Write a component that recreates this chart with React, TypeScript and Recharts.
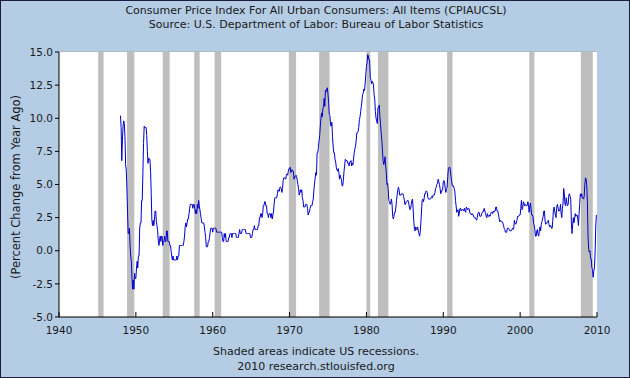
import React from 'react';
import {
  ComposedChart,
  Line,
  XAxis,
  YAxis,
  CartesianGrid,
  ReferenceArea,
} from 'recharts';

// Monthly CPI change from a year earlier (%)
const cpi1948 = [
  10.2, 9.3, 6.8, 8.3, 9.4, 9.8, 9.6, 8.6, 6.5, 6.1, 4.8, 3.0,
  1.3, 1.3, 1.7, 0.4, -0.4, -0.8, -2.1, -2.9, -2.2, -2.9, -1.7, -2.1,
];
const cpi1950s = [
  -2.1, -1.3, -0.8, -1.3, -0.4, -0.4, 1.7, 2.1, 2.1, 3.8, 3.8, 5.9,
  8.1, 9.4, 9.3, 9.3, 9.3, 8.7, 7.5, 6.6, 7.0, 6.9, 6.9, 6.0,
  4.3, 2.3, 1.9, 2.3, 1.9, 2.3, 3.0, 3.0, 2.2, 1.9, 1.5, 0.8,
  0.4, 0.8, 1.1, 0.7, 1.1, 1.1, 0.4, 0.7, 0.7, 1.1, 0.7, 0.7,
  1.5, 1.5, 0.7, 0.7, 0.7, 0.4, 0.4, 0.0, -0.4, -0.7, -0.4, -0.7,
  -0.7, -0.7, -0.7, -0.7, -0.4, -0.7, -0.4, -0.4, 0.4, 0.4, 0.4, 0.4,
  0.4, 0.4, 0.4, 0.7, 1.1, 1.8, 2.1, 1.8, 2.1, 2.4, 2.4, 2.8,
  3.2, 3.5, 3.5, 3.5, 3.5, 3.2, 3.5, 3.5, 3.2, 2.8, 3.1, 2.8,
  3.5, 3.2, 3.8, 3.4, 3.1, 2.8, 2.4, 2.1, 2.1, 2.1, 2.1, 1.8,
  1.4, 1.0, 0.3, 0.3, 0.3, 0.7, 0.7, 1.0, 1.4, 1.7, 1.7, 1.7,
];
const cpi1960s = [
  1.4, 1.7, 1.7, 1.7, 1.7, 1.7, 1.4, 1.4, 1.4, 1.4, 1.4, 1.4,
  1.4, 1.4, 1.4, 1.0, 0.7, 0.7, 1.3, 1.0, 1.3, 0.7, 0.7, 0.7,
  0.7, 1.0, 1.0, 1.3, 1.3, 1.3, 1.0, 1.3, 1.3, 1.3, 1.3, 1.3,
  1.3, 1.0, 1.0, 1.0, 1.0, 1.3, 1.6, 1.3, 1.3, 1.3, 1.6, 1.6,
  1.6, 1.6, 1.6, 1.6, 1.3, 1.3, 1.3, 1.3, 1.3, 1.3, 1.3, 1.0,
  1.0, 1.0, 1.3, 1.6, 1.6, 1.9, 1.6, 1.6, 1.6, 1.6, 1.6, 1.9,
  1.9, 2.5, 2.5, 2.8, 2.8, 2.5, 2.8, 3.4, 3.4, 3.7, 3.7, 3.4,
  3.4, 2.8, 2.8, 2.5, 2.8, 2.8, 2.8, 2.5, 2.8, 2.4, 2.7, 3.0,
  3.6, 4.0, 4.0, 4.0, 4.0, 4.3, 4.6, 4.5, 4.5, 4.8, 4.8, 4.7,
  4.4, 4.7, 5.3, 5.5, 5.5, 5.5, 5.4, 5.7, 5.8, 5.7, 6.0, 6.2,
];
const cpi1970s = [
  6.2, 6.3, 5.9, 6.1, 6.1, 6.0, 6.0, 5.4, 5.6, 5.6, 5.7, 5.6,
  5.3, 5.0, 4.7, 4.2, 4.4, 4.6, 4.4, 4.6, 4.0, 3.8, 3.3, 3.3,
  3.3, 3.5, 3.5, 3.5, 3.2, 2.7, 2.9, 2.9, 3.2, 3.4, 3.4, 3.4,
  3.7, 3.9, 4.6, 5.1, 5.5, 5.9, 5.7, 7.4, 7.4, 7.8, 8.3, 8.7,
  9.4, 10.0, 10.4, 10.1, 10.7, 10.9, 11.5, 10.9, 12.1, 12.0, 12.2, 12.3,
  11.8, 11.2, 10.3, 10.2, 9.5, 9.4, 9.7, 8.6, 7.9, 7.4, 7.4, 6.9,
  6.7, 6.3, 6.1, 6.0, 6.2, 5.9, 5.4, 5.7, 5.5, 5.4, 4.9, 4.9,
  5.3, 6.0, 6.4, 6.9, 6.8, 6.8, 6.8, 6.6, 6.6, 6.4, 6.7, 6.7,
  6.8, 6.4, 6.6, 6.5, 7.0, 7.4, 7.7, 7.9, 8.3, 8.9, 8.9, 9.0,
  9.3, 9.9, 10.1, 10.5, 10.9, 11.3, 11.8, 11.9, 12.2, 12.1, 12.6, 13.3,
];
const cpi1980s = [
  13.9, 14.2, 14.8, 14.7, 14.4, 14.4, 13.1, 12.9, 12.6, 12.8, 12.7, 12.5,
  11.8, 11.4, 10.5, 10.0, 9.8, 9.6, 10.8, 10.8, 11.0, 10.1, 9.6, 8.9,
  8.4, 7.6, 6.8, 6.5, 6.7, 7.1, 6.4, 5.9, 5.0, 5.1, 4.6, 3.8,
  3.7, 3.5, 3.6, 3.9, 3.5, 2.6, 2.4, 2.6, 2.9, 2.9, 3.3, 3.8,
  4.2, 4.6, 4.8, 4.6, 4.2, 4.2, 4.2, 4.3, 4.3, 4.3, 4.1, 3.9,
  3.5, 3.5, 3.7, 3.7, 3.8, 3.8, 3.6, 3.3, 3.1, 3.2, 3.5, 3.8,
  3.9, 3.1, 2.2, 1.6, 1.5, 1.8, 1.6, 1.6, 1.8, 1.5, 1.3, 1.1,
  1.4, 2.1, 3.0, 3.8, 3.9, 3.7, 3.9, 4.3, 4.3, 4.5, 4.5, 4.4,
  4.0, 3.9, 3.9, 3.9, 3.9, 4.0, 4.1, 4.0, 4.2, 4.2, 4.2, 4.4,
  4.7, 4.8, 5.0, 5.1, 5.4, 5.2, 5.0, 4.7, 4.3, 4.4, 4.6, 4.6,
];
const cpi1990s = [
  5.2, 5.3, 5.2, 4.7, 4.4, 4.7, 4.8, 5.6, 6.2, 6.3, 6.3, 6.1,
  5.6, 5.3, 4.9, 4.9, 4.9, 4.7, 4.5, 3.8, 3.4, 2.9, 3.0, 3.1,
  2.6, 2.8, 3.2, 3.2, 3.0, 3.1, 3.1, 3.1, 3.0, 3.2, 3.0, 2.9,
  3.3, 3.2, 3.1, 3.2, 3.2, 3.0, 2.8, 2.8, 2.7, 2.8, 2.7, 2.7,
  2.5, 2.5, 2.5, 2.4, 2.3, 2.5, 2.8, 2.9, 2.9, 2.6, 2.6, 2.6,
  2.8, 2.9, 2.9, 3.1, 3.2, 3.0, 2.8, 2.6, 2.5, 2.8, 2.6, 2.6,
  2.7, 2.6, 2.8, 2.9, 2.9, 2.8, 3.0, 2.9, 3.0, 3.0, 3.3, 3.3,
  3.0, 3.0, 2.8, 2.5, 2.2, 2.3, 2.2, 2.2, 2.2, 2.1, 1.9, 1.7,
  1.6, 1.4, 1.4, 1.4, 1.7, 1.7, 1.7, 1.6, 1.5, 1.5, 1.5, 1.6,
  1.7, 1.6, 1.7, 2.3, 2.1, 2.0, 2.1, 2.3, 2.6, 2.6, 2.6, 2.7,
];
const cpi2000s = [
  2.7, 3.2, 3.8, 3.1, 3.2, 3.7, 3.6, 3.4, 3.5, 3.4, 3.4, 3.4,
  3.7, 3.5, 2.9, 3.3, 3.6, 3.2, 2.7, 2.7, 2.6, 2.1, 1.9, 1.6,
  1.1, 1.1, 1.5, 1.6, 1.2, 1.1, 1.5, 1.8, 1.5, 2.0, 2.2, 2.4,
  2.6, 3.0, 3.0, 2.2, 2.0, 2.1, 2.1, 2.2, 2.3, 2.0, 1.8, 1.9,
  1.9, 1.7, 1.7, 2.3, 3.1, 3.3, 3.0, 2.7, 2.5, 3.2, 3.5, 3.3,
  3.0, 3.0, 3.1, 3.5, 2.8, 2.5, 3.2, 3.6, 4.7, 4.3, 3.5, 3.4,
  4.0, 3.6, 3.4, 3.5, 4.2, 4.3, 4.1, 3.9, 2.1, 1.3, 2.0, 2.5,
  2.1, 2.4, 2.8, 2.6, 2.7, 2.7, 2.4, 1.9, 2.8, 3.5, 4.3, 4.1,
  4.3, 4.0, 4.0, 3.9, 4.1, 5.0, 5.5, 5.4, 4.9, 3.7, 1.1, 0.1,
  -0.1, 0.0, -0.6, -0.6, -1.3, -1.4, -2.0, -1.5, -1.3, -0.2, 1.8, 2.7,
];

const seriesParts: [number, number[]][] = [
  [1948, cpi1948],
  [1950, cpi1950s],
  [1960, cpi1960s],
  [1970, cpi1970s],
  [1980, cpi1980s],
  [1990, cpi1990s],
  [2000, cpi2000s],
];

// NBER recessions, as fractional years [start, end]
const recessions: [number, number][] = [
  [1945.1, 1945.8],
  [1948.85, 1949.8],
  [1953.5, 1954.4],
  [1957.6, 1958.3],
  [1960.25, 1961.1],
  [1969.9, 1970.85],
  [1973.85, 1975.2],
  [1980.0, 1980.5],
  [1981.5, 1982.85],
  [1990.5, 1991.2],
  [2001.2, 2001.85],
  [2007.9, 2009.45],
];

const xTicks = [1940, 1950, 1960, 1970, 1980, 1990, 2000, 2010];
const yTicks = [-5, -2.5, 0, 2.5, 5, 7.5, 10, 12.5, 15];

const data = seriesParts.flatMap(([start, vals]) =>
  vals.map((v, i) => ({ year: start + i / 12, value: v }))
);

const FONT = '"DejaVu Sans", Verdana, sans-serif';
const TEXT = '#1a1a1a';

const XTick = (props: any) => {
  const { x, y, payload } = props;
  return (
    <g>
      <line x1={x} x2={x} y1={y - 5} y2={y} stroke="#000" />
      <text x={x} y={y + 17} textAnchor="middle" fontSize={10.5} fontFamily={FONT} fill={TEXT}>
        {payload.value}
      </text>
    </g>
  );
};

export default function App() {
  return (
    <div
      style={{
        position: 'absolute',
        left: 0,
        top: 0,
        width: 630,
        height: 378,
        boxSizing: 'border-box',
        border: '1px solid #1c1c3c',
        background: '#b4cce4',
        fontFamily: FONT,
        color: TEXT,
      }}
    >
      <div style={{ position: 'absolute', left: 0, top: 3, width: 630, textAlign: 'center', fontSize: 11, lineHeight: '14px' }}>
        Consumer Price Index For All Urban Consumers: All Items (CPIAUCSL)
        <br />
        Source: U.S. Department of Labor: Bureau of Labor Statistics
      </div>
      <div
        style={{
          position: 'absolute',
          left: 15,
          top: 186,
          transform: 'translate(-50%, -50%) rotate(-90deg)',
          whiteSpace: 'nowrap',
          fontSize: 11.5,
        }}
      >
        (Percent Change from Year Ago)
      </div>
      <div style={{ position: 'absolute', left: 0, top: 343, width: 630, textAlign: 'center', fontSize: 11, lineHeight: '15px' }}>
        Shaded areas indicate US recessions.
        <br />
        2010 research.stlouisfed.org
      </div>
      <div style={{ position: 'absolute', left: -1, top: -1 }}>
        <ComposedChart
          width={630}
          height={378}
          data={data}
          margin={{ top: 52, right: 33, bottom: 31, left: 0 }}
        >
          <rect x={59} y={52} width={538} height={265} fill="#fff" />
          <CartesianGrid vertical={false} stroke="#a6a6a6" strokeWidth={1} fill="#fff" />
          {recessions.map(([s, e]) => (
            <ReferenceArea
              key={`rec-${s}`}
              x1={s}
              x2={e}
              y1={-5}
              y2={15}
              fill="#bebebe"
              fillOpacity={1}
              stroke="none"
              ifOverflow="hidden"
            />
          ))}
          <XAxis
            dataKey="year"
            type="number"
            domain={[1940, 2010]}
            ticks={xTicks}
            allowDataOverflow
            height={30}
            tickSize={0}
            tickMargin={0}
            tickLine={false}
            axisLine={{ stroke: '#000' }}
            tick={<XTick />}
            interval={0}
          />
          <YAxis
            type="number"
            domain={[-5, 15]}
            ticks={yTicks}
            allowDataOverflow
            width={59}
            tickSize={4}
            tickMargin={2}
            tickLine={{ stroke: '#000' }}
            axisLine={{ stroke: '#000' }}
            tickFormatter={(v: number) => v.toFixed(1)}
            tick={{ fontSize: 10.5, fontFamily: FONT, fill: TEXT }}
            interval={0}
          />
          <Line
            dataKey="value"
            type="linear"
            stroke="#0000cc"
            strokeWidth={1}
            dot={false}
            isAnimationActive={false}
          />
        </ComposedChart>
      </div>
    </div>
  );
}
